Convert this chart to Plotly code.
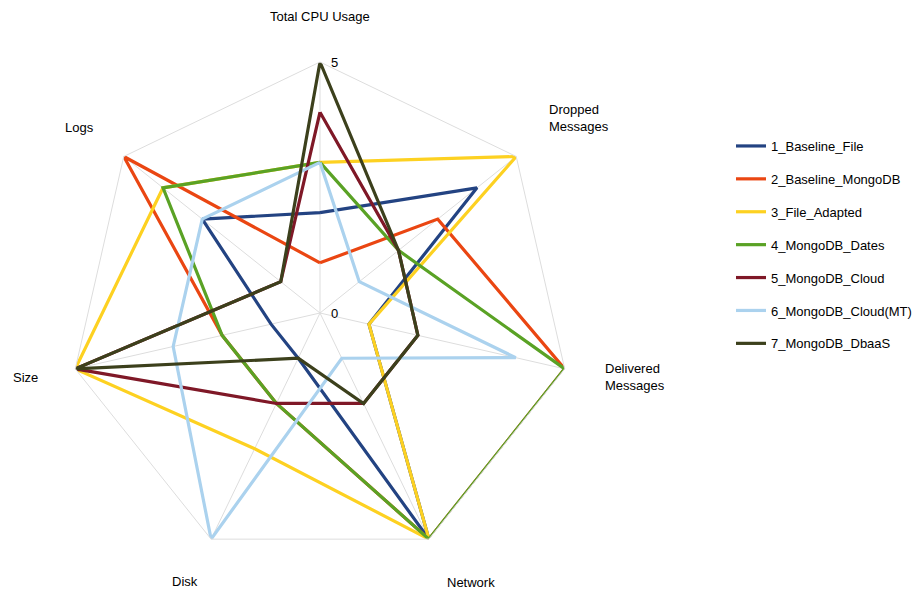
import plotly.graph_objects as go

categories = ["Total CPU Usage", "Dropped Messages", "Delivered Messages",
              "Network", "Disk", "Size", "Logs"]
series_names = ["1_Baseline_File", "2_Baseline_MongoDB", "3_File_Adapted",
                "4_MongoDB_Dates", "5_MongoDB_Cloud", "6_MongoDB_Cloud(MT)",
                "7_MongoDB_DbaaS"]
baseline_file = [2, 4, 1, 5, 1, 1, 3]
baseline_mongodb = [1, 3, 5, 5, 2, 2, 5]
file_adapted = [3, 5, 1, 5, 3, 5, 4]
mongodb_dates = [3, 2, 5, 5, 2, 2, 4]
mongodb_cloud = [4, 2, 2, 2, 2, 5, 1]
mongodb_cloud_mt = [3, 1, 4, 1, 5, 3, 3]
mongodb_dbaas = [5, 2, 2, 2, 1, 5, 1]
radial_range = [0, 5]
radial_ticktext = ["0", "5"]

colors = ["#234382", "#ea4612", "#fdd121", "#5aa225", "#7f1827", "#abd2ee", "#3c401c"]
all_values = [baseline_file, baseline_mongodb, file_adapted, mongodb_dates,
              mongodb_cloud, mongodb_cloud_mt, mongodb_dbaas]

fig = go.Figure()
for name, vals, col in zip(series_names, all_values, colors):
    fig.add_trace(go.Scatterpolar(
        r=vals + vals[:1],
        theta=categories + categories[:1],
        mode="lines",
        name=name,
        legendgroup=name,
        line=dict(color=col, width=3.2),
    ))

W, H = 919, 589
cx, cy, R = 320, 313, 251
fig.update_layout(
    width=W, height=H,
    margin=dict(l=0, r=0, t=0, b=0),
    paper_bgcolor="white",
    plot_bgcolor="white",
    font=dict(family="Liberation Sans, Arial, sans-serif", size=13, color="#000000"),
    polar=dict(
        domain=dict(x=[(cx - R) / W, (cx + R) / W],
                    y=[(H - cy - R) / H, (H - cy + R) / H]),
        bgcolor="white",
        gridshape="linear",
        angularaxis=dict(
            direction="clockwise",
            rotation=90,
            showticklabels=False,
            ticks="",
            showline=True,
            linecolor="#dddddd",
            linewidth=1,
            gridcolor="#dddddd",
            gridwidth=1,
        ),
        radialaxis=dict(
            range=radial_range,
            angle=90,
            showticklabels=False,
            showline=False,
            showgrid=False,
            ticks="",
        ),
    ),
    showlegend=True,
    legend=dict(
        x=731 / W, y=1 - 131 / H,
        xanchor="left", yanchor="top",
        font=dict(size=13, color="#000000"),
        itemwidth=30,
        tracegroupgap=13,
        bgcolor="rgba(0,0,0,0)",
    ),
)

# radial tick labels, placed just right of the vertical axis at r=0 and r=max
for rv, txt in zip(radial_range, radial_ticktext):
    py = cy - R * (rv - radial_range[0]) / (radial_range[1] - radial_range[0])
    fig.add_annotation(
        text=txt, x=(cx + 9) / W, y=1 - py / H, xref="paper", yref="paper",
        xanchor="left", yanchor="middle", showarrow=False,
        font=dict(size=13, color="#000000"),
    )

labels = [
    ("Total CPU Usage", 320, 16, "center"),
    ("Dropped<br>Messages", 547, 118, "left"),
    ("Delivered<br>Messages", 603, 377, "left"),
    ("Network", 445, 582, "left"),
    ("Disk", 170, 581, "left"),
    ("Size", 11, 378, "left"),
    ("Logs", 63, 127, "left"),
]
for text, x, y, anchor in labels:
    fig.add_annotation(
        text=text, x=x / W, y=1 - y / H, xref="paper", yref="paper",
        xanchor=anchor, yanchor="middle", showarrow=False, align="left",
        font=dict(size=13, color="#000000"),
    )

fig.write_html("out.html")
